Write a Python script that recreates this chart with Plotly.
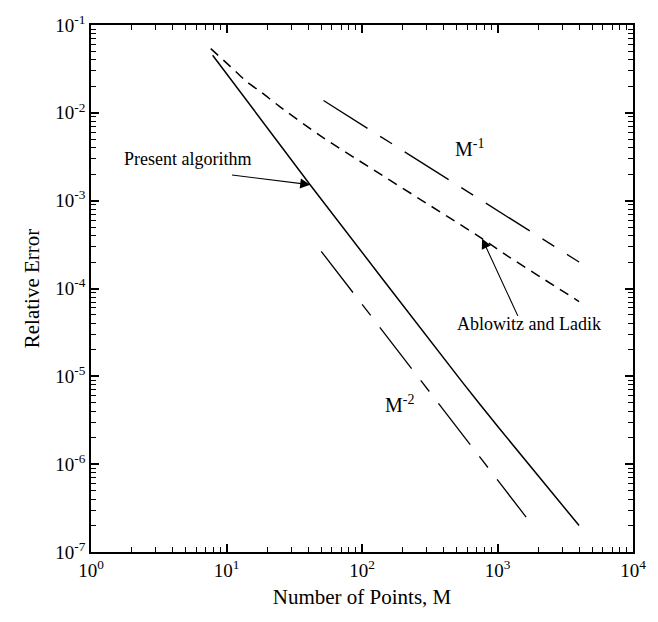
import math
import plotly.graph_objects as go

# ---- data ----
present_M = [7.9, 41.4, 550, 1026, 4000]
present_err = [4.53e-2, 1.52e-3, 8.6e-6, 2.58e-6, 2.0e-7]

al_M = [7.65, 10.7, 14.0, 18.3, 24.3, 50, 770, 1140, 4000]
al_err = [5.38e-2, 3.36e-2, 2.28e-2, 1.69e-2, 1.20e-2, 5.4e-3, 3.7e-4, 2.44e-4, 7.1e-5]

ref1_M = [52, 4000]
ref1_err = [1.38e-2, 2.0e-4]

ref2_M = [50, 1626]
ref2_err = [2.65e-4, 2.5e-7]

x_tickvals = [1, 10, 100, 1000, 10000]
x_ticktext = ["10<sup>0</sup>", "10<sup>1</sup>", "10<sup>2</sup>", "10<sup>3</sup>", "10<sup>4</sup>"]
y_tickvals = [1e-7, 1e-6, 1e-5, 1e-4, 1e-3, 1e-2, 1e-1]
y_ticktext = ["10<sup>-7</sup>", "10<sup>-6</sup>", "10<sup>-5</sup>", "10<sup>-4</sup>",
              "10<sup>-3</sup>", "10<sup>-2</sup>", "10<sup>-1</sup>"]

x_minor = [d * 10 ** e for e in range(0, 4) for d in range(2, 10)]
y_minor = [d * 10.0 ** e for e in range(-7, -1) for d in range(2, 10)]

FONT = "Liberation Serif"

fig = go.Figure()
fig.add_trace(go.Scatter(x=present_M, y=present_err, mode="lines",
                         line=dict(color="black", width=1.5, shape="spline", smoothing=0.6),
                         showlegend=False))
fig.add_trace(go.Scatter(x=al_M, y=al_err, mode="lines",
                         line=dict(color="black", width=1.5, dash="10px,7px", shape="spline", smoothing=0.6),
                         showlegend=False))
fig.add_trace(go.Scatter(x=ref1_M, y=ref1_err, mode="lines",
                         line=dict(color="black", width=1.3, dash="52px,15px,14px,15px"), showlegend=False))
fig.add_trace(go.Scatter(x=ref2_M, y=ref2_err, mode="lines",
                         line=dict(color="black", width=1.3, dash="52px,15px,14px,15px"), showlegend=False))

fig.update_xaxes(type="log", showgrid=False, zeroline=False, showline=True, linecolor="black",
                 linewidth=1.6, mirror="ticks", ticks="inside", tickcolor="black",
                 tickmode="array", tickvals=x_tickvals, ticktext=x_ticktext,
                 ticklen=8, tickwidth=1.5, range=[0, 4],
                 minor=dict(ticks="inside", tickmode="array", tickvals=x_minor, ticklen=5,
                            tickwidth=1.2, tickcolor="black"),
                 tickfont=dict(family=FONT, size=19, color="black"),
                 title=dict(text="Number of Points, M", font=dict(family=FONT, size=21, color="black"),
                            standoff=10))
fig.update_yaxes(type="log", showgrid=False, zeroline=False, showline=True, linecolor="black",
                 linewidth=1.6, mirror="ticks", ticks="inside", tickcolor="black",
                 tickmode="array", tickvals=y_tickvals, ticktext=y_ticktext,
                 ticklen=8, tickwidth=1.5, range=[-7, -1],
                 minor=dict(ticks="inside", tickmode="array", tickvals=y_minor, ticklen=5,
                            tickwidth=1.2, tickcolor="black"),
                 tickfont=dict(family=FONT, size=19, color="black"),
                 title=dict(text="Relative Error", font=dict(family=FONT, size=21, color="black"),
                            standoff=10))

# annotations (positions in data units)
present_label = (10 ** 0.711, 10 ** -2.52)
present_tail = (10.7, 1.97e-3)
present_tip = (41.4, 1.52e-3)
al_label = (10 ** 3.234, 10 ** -4.40)
al_tail = (1429, 4.69e-5)
al_tip = (770, 3.7e-4)
m1_label = (10 ** 2.79, 10 ** -2.40)
m2_label = (10 ** 2.276, 10 ** -5.31)


def L(v):
    return math.log10(v)


tf = dict(family=FONT, size=18, color="black")
fig.add_annotation(x=L(present_label[0]), y=L(present_label[1]), text="Present algorithm",
                   showarrow=False, font=tf, xanchor="center", yanchor="middle")
fig.add_annotation(x=L(al_label[0]), y=L(al_label[1]), text="Ablowitz and Ladik",
                   showarrow=False, font=tf, xanchor="center", yanchor="middle")
fig.add_annotation(x=L(m1_label[0]), y=L(m1_label[1]), text="M<sup>-1</sup>",
                   showarrow=False, font=dict(family=FONT, size=20, color="black"))
fig.add_annotation(x=L(m2_label[0]), y=L(m2_label[1]), text="M<sup>-2</sup>",
                   showarrow=False, font=dict(family=FONT, size=20, color="black"))
for tip, tail in [(present_tip, present_tail), (al_tip, al_tail)]:
    fig.add_annotation(x=L(tip[0]), y=L(tip[1]), ax=L(tail[0]), ay=L(tail[1]),
                       xref="x", yref="y", axref="x", ayref="y", text="",
                       showarrow=True, arrowhead=2, arrowsize=1.8, arrowwidth=1.1,
                       arrowcolor="black")

fig.update_layout(
    width=658, height=622, autosize=False,
    margin=dict(l=91, r=21, t=16, b=70),
    paper_bgcolor="white", plot_bgcolor="white",
)

fig.write_html("out.html")
